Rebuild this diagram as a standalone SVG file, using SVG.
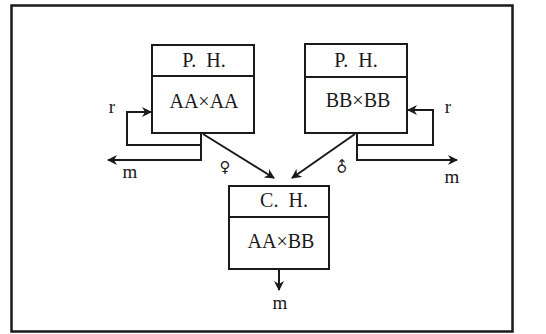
<svg xmlns="http://www.w3.org/2000/svg" width="546" height="334" viewBox="0 0 546 334">
  <style>
    .box { fill: #fff; stroke: #1a1a1a; stroke-width: 2; }
    .line { fill: none; stroke: #1a1a1a; stroke-width: 2; }
    .lbl { font-family: "Liberation Serif", "DejaVu Serif", serif; font-size: 19px; fill: #1a1a1a; text-anchor: middle; }
    .big { font-size: 20px; }
    .sym { font-family: "DejaVu Sans", sans-serif; font-size: 15px; fill: #1a1a1a; text-anchor: middle; }
  </style>
  <defs>
    <marker id="arr" viewBox="0 0 10 10" refX="9" refY="5" markerWidth="10" markerHeight="10" markerUnits="userSpaceOnUse" orient="auto">
      <path d="M0,0 L10,5 L0,10 L3,5 Z" fill="#1a1a1a"/>
    </marker>
  </defs>
  <rect width="546" height="334" fill="#fff"/>
  <!-- outer frame -->
  <rect x="11.5" y="5.5" width="501" height="326" fill="none" stroke="#1a1a1a" stroke-width="2.5"/>

  <g id="connectors">
    <!-- left parent: recycle loop and outflow -->
    <path class="line" d="M201,133 V145 H127 V112 H151" marker-end="url(#arr)"/>
    <path class="line" d="M201,145 V160 H108" marker-end="url(#arr)"/>
    <!-- right parent: recycle loop and outflow -->
    <path class="line" d="M357,133 V145 H433 V110 H408" marker-end="url(#arr)"/>
    <path class="line" d="M357,145 V160 H457" marker-end="url(#arr)"/>
    <!-- crosses into the hybrid -->
    <path class="line" d="M203,134 L274,178" marker-end="url(#arr)"/>
    <path class="line" d="M355,134 L292,178" marker-end="url(#arr)"/>
    <!-- hybrid outflow -->
    <path class="line" d="M279,269 V290" marker-end="url(#arr)"/>
    <text class="lbl" x="112" y="113">r</text>
    <text class="lbl" x="130" y="178">m</text>
    <text class="lbl" x="448" y="113">r</text>
    <text class="lbl" x="452" y="183">m</text>
    <text class="lbl" x="280" y="309">m</text>
    <text class="sym" x="225" y="172">♀</text>
    <text class="sym" x="0" y="0" transform="translate(342,167) rotate(-45)" dy="5">♂</text>
  </g>

  <g id="parent-a">
    <rect class="box" x="152" y="45" width="102" height="88"/>
    <line class="line" x1="152" y1="76" x2="254" y2="76"/>
    <text class="lbl big" x="204" y="67" word-spacing="5">P. H.</text>
    <text class="lbl big" x="204" y="108">AA×AA</text>
  </g>

  <g id="parent-b">
    <rect class="box" x="305" y="44" width="102" height="89"/>
    <line class="line" x1="305" y1="77" x2="407" y2="77"/>
    <text class="lbl big" x="356" y="67" word-spacing="5">P. H.</text>
    <text class="lbl big" x="358" y="107">BB×BB</text>
  </g>

  <g id="hybrid">
    <rect class="box" x="229" y="186" width="100" height="83"/>
    <line class="line" x1="229" y1="217" x2="329" y2="217"/>
    <text class="lbl big" x="284" y="207" word-spacing="5">C. H.</text>
    <text class="lbl big" x="281" y="248">AA×BB</text>
  </g>
</svg>
